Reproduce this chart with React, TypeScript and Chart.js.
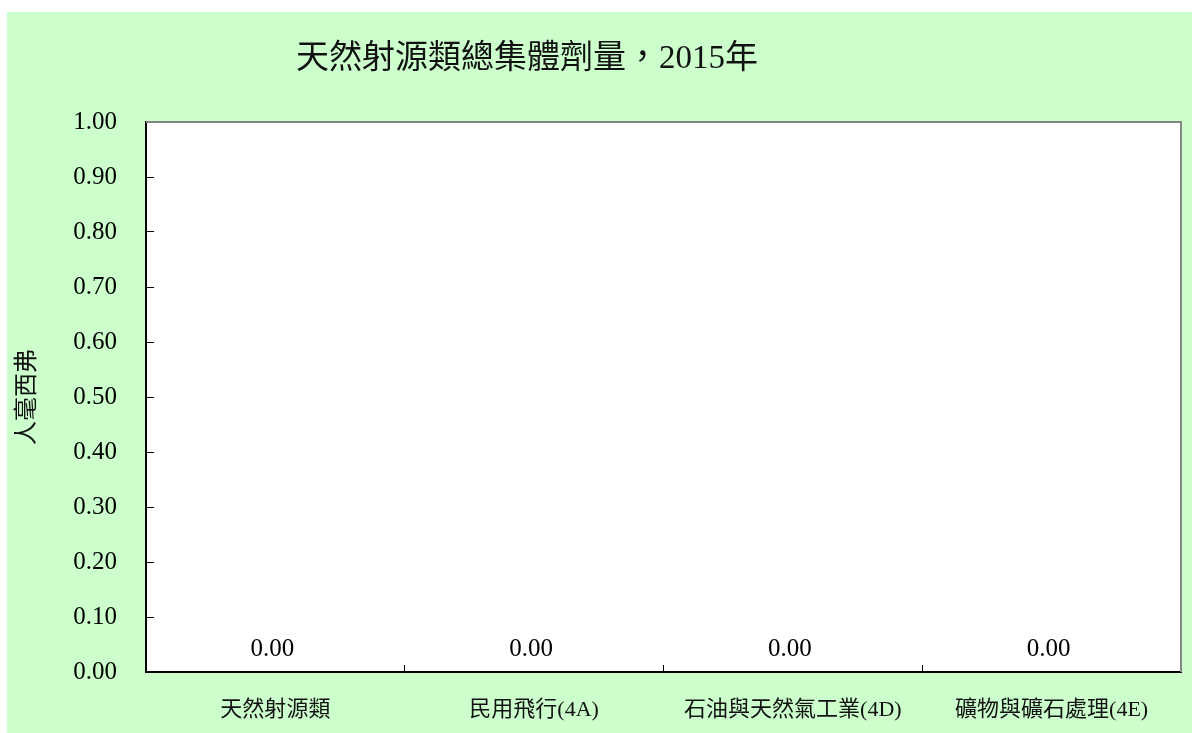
import React, { useEffect, useRef } from 'react';
import { Chart, registerables } from 'chart.js';

Chart.register(...registerables);

const categories: string[] = ['天然射源類', '民用飛行(4A)', '石油與天然氣工業(4D)', '礦物與礦石處理(4E)'];
const doseValues: number[] = [0, 0, 0, 0];
const chartTitle = '天然射源類總集體劑量，2015年';
const yAxisTitle = '人毫西弗';
const yMin = 0;
const yMax = 1;
const yStep = 0.1;

const FONT = "'Liberation Serif', 'Noto Sans CJK TC', serif";

const plotBackground = {
  id: 'plotBackground',
  beforeDraw(chart: any) {
    const { ctx, chartArea } = chart;
    ctx.save();
    ctx.fillStyle = '#FFFFFF';
    ctx.fillRect(chartArea.left, chartArea.top, chartArea.right - chartArea.left, chartArea.bottom - chartArea.top);
    ctx.restore();
  },
};

const frame = {
  id: 'frame',
  afterDraw(chart: any) {
    const { ctx, chartArea } = chart;
    ctx.save();
    ctx.strokeStyle = '#868686';
    ctx.lineWidth = 2;
    ctx.beginPath();
    ctx.moveTo(chartArea.left, chartArea.top);
    ctx.lineTo(chartArea.right, chartArea.top);
    ctx.lineTo(chartArea.right, chartArea.bottom);
    ctx.stroke();
    ctx.restore();
  },
};

const dataLabels = {
  id: 'dataLabels',
  afterDatasetsDraw(chart: any) {
    const { ctx } = chart;
    const meta = chart.getDatasetMeta(0);
    const values = chart.data.datasets[0].data as number[];
    ctx.save();
    ctx.font = `25px ${FONT}`;
    ctx.fillStyle = '#000';
    ctx.textAlign = 'center';
    ctx.textBaseline = 'middle';
    meta.data.forEach((bar: any, i: number) => {
      ctx.fillText(Number(values[i]).toFixed(2), bar.x - 3, bar.y - 23);
    });
    ctx.restore();
  },
};

const titleDraw = {
  id: 'titleDraw',
  afterDraw(chart: any) {
    const { ctx } = chart;
    ctx.save();
    ctx.font = `33px ${FONT}`;
    ctx.fillStyle = '#111';
    ctx.textAlign = 'center';
    ctx.textBaseline = 'middle';
    ctx.fillText(chartTitle, 520, 47);
    ctx.restore();
  },
};

export default function App() {
  const canvasRef = useRef<HTMLCanvasElement | null>(null);

  useEffect(() => {
    if (!canvasRef.current) return;
    const chart = new Chart(canvasRef.current, {
      type: 'bar',
      data: {
        labels: categories,
        datasets: [
          {
            data: doseValues,
            backgroundColor: '#9999FF',
            borderWidth: 0,
          },
        ],
      },
      options: {
        responsive: false,
        animation: false,
        layout: { padding: { top: 110, right: 11, left: 0, bottom: 0 } },
        plugins: {
          legend: { display: false },
          tooltip: { enabled: false },
          title: { display: false },
        },
        scales: {
          x: {
            ticks: {
              font: { family: FONT, size: 22 },
              color: '#111',
              padding: 32,
              maxRotation: 0,
              autoSkip: false,
            },
            grid: { offset: true, drawOnChartArea: false, tickLength: -7, color: '#000' },
            border: { display: true, color: '#000', width: 2 },
            afterFit: (s: any) => {
              s.height = 61;
            },
          },
          y: {
            min: yMin,
            max: yMax,
            ticks: {
              stepSize: yStep,
              callback: (v: any) => Number(v).toFixed(2),
              font: { family: FONT, size: 25 },
              color: '#000',
              padding: 37,
              autoSkip: false,
            },
            grid: { drawOnChartArea: false, tickLength: -8, color: '#000' },
            border: { display: true, color: '#000', width: 2 },
            title: {
              display: true,
              text: yAxisTitle,
              font: { family: FONT, size: 24 },
              color: '#111',
              padding: { top: 6, bottom: 0 },
            },
            afterFit: (s: any) => {
              s.width = 139;
            },
          },
        },
      },
      plugins: [plotBackground, frame, dataLabels, titleDraw],
    });
    return () => chart.destroy();
  }, []);

  return (
    <div
      style={{
        position: 'absolute',
        left: 7,
        top: 12,
        width: 1185,
        height: 721,
        background: '#CCFFCC',
      }}
    >
      <canvas ref={canvasRef} width={1185} height={721} style={{ display: 'block' }} />
    </div>
  );
}
